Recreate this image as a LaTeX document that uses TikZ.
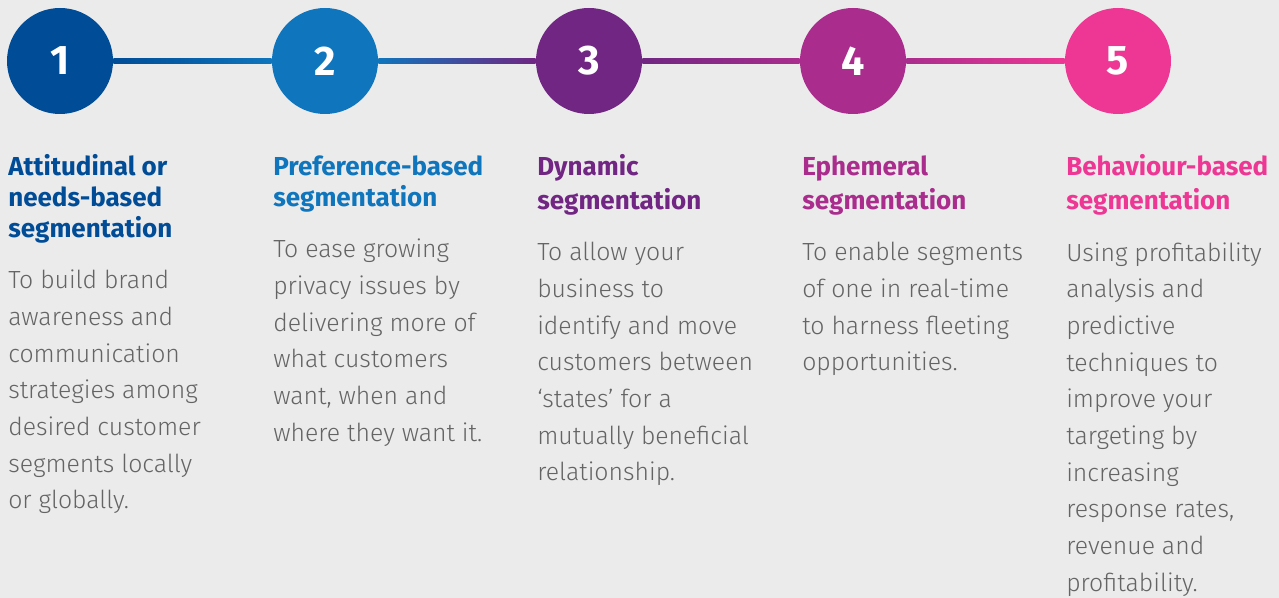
\documentclass[tikz,border=0pt]{standalone}
\usepackage{fontspec}
\setmainfont{Fira Sans}[UprightFont=* Light, BoldFont=* Bold]
\definecolor{bggray}{RGB}{235,235,235}
\definecolor{bodygray}{RGB}{100,100,100}
\definecolor{segone}{RGB}{0,76,151}
\definecolor{segtwo}{RGB}{15,117,188}
\definecolor{segthree}{RGB}{112,38,130}
\definecolor{segfour}{RGB}{170,45,142}
\definecolor{segfive}{RGB}{238,55,148}

\begin{document}
\begin{tikzpicture}[x=0.75pt, y=-0.75pt,
			stepdot/.style={circle, inner sep=0pt, minimum size=79.5pt,
				text=white, font=\fontsize{31}{31}\selectfont\bfseries},
			headtext/.style={anchor=base west, inner sep=0pt, align=left,
				font=\fontsize{19.5}{23.25}\selectfont\bfseries},
			headwide/.style={headtext, font=\fontsize{19.5}{25.5}\selectfont\bfseries},
			bodytext/.style={anchor=base west, inner sep=0pt, align=left,
				text=bodygray, font=\fontsize{18.6}{27.5}\selectfont}]
			\fill[bggray] (0,0) rectangle (1279,598);
			\useasboundingbox (0,0) rectangle (1279,598);
			
			\node[stepdot, fill=segone] (c1) at (60, 61) {1};
			\node[stepdot, fill=segtwo] (c2) at (325, 61) {2};
			\node[stepdot, fill=segthree] (c3) at (589, 61) {3};
			\node[stepdot, fill=segfour] (c4) at (853, 61) {4};
			\node[stepdot, fill=segfive] (c5) at (1118, 61) {5};
			
			\shade[left color=segone, right color=segtwo] ([yshift=-1.9pt]c1.east) rectangle ([yshift=1.9pt]c2.west);
			\shade[left color=segtwo, right color=segthree] ([yshift=-1.9pt]c2.east) rectangle ([yshift=1.9pt]c3.west);
			\shade[left color=segthree, right color=segfour] ([yshift=-1.9pt]c3.east) rectangle ([yshift=1.9pt]c4.west);
			\shade[left color=segfour, right color=segfive] ([yshift=-1.9pt]c4.east) rectangle ([yshift=1.9pt]c5.west);
			
			% base anchor = baseline of the last line
			\node[headtext, text=segone] (h1) at (8, 238) {Attitudinal or\\needs-based\\segmentation};
			\node[headtext, text=segtwo] (h2) at (273, 207) {Preference-based\\segmentation};
			\node[headwide, text=segthree] (h3) at (537, 210) {Dynamic\\segmentation};
			\node[headwide, text=segfour] (h4) at (802, 210) {Ephemeral\\segmentation};
			\node[headwide, text=segfive] (h5) at (1066, 210) {Behaviour-based\\segmentation};
			
			\node[bodytext] (b1) at (8, 509) {To build brand\\awareness and\\communication\\strategies among\\desired customer\\segments locally\\or globally.};
			\node[bodytext] (b2) at (273, 441.3) {To ease growing\\privacy issues by\\delivering more of\\what customers\\want, when and\\where they want it.};
			\node[bodytext] (b3) at (537, 481) {To allow your\\business to\\identify and move\\customers between\\‘states’ for a\\mutually beneficial\\relationship.};
			\node[bodytext] (b4) at (802, 371) {To enable segments\\of one in real-time\\to harness fleeting\\opportunities.};
			\node[bodytext] (b5) at (1066, 591) {Using profitability\\analysis and\\predictive\\techniques to\\improve your\\targeting by\\increasing\\response rates,\\revenue and\\profitability.};
			\end{tikzpicture}
\end{document}
